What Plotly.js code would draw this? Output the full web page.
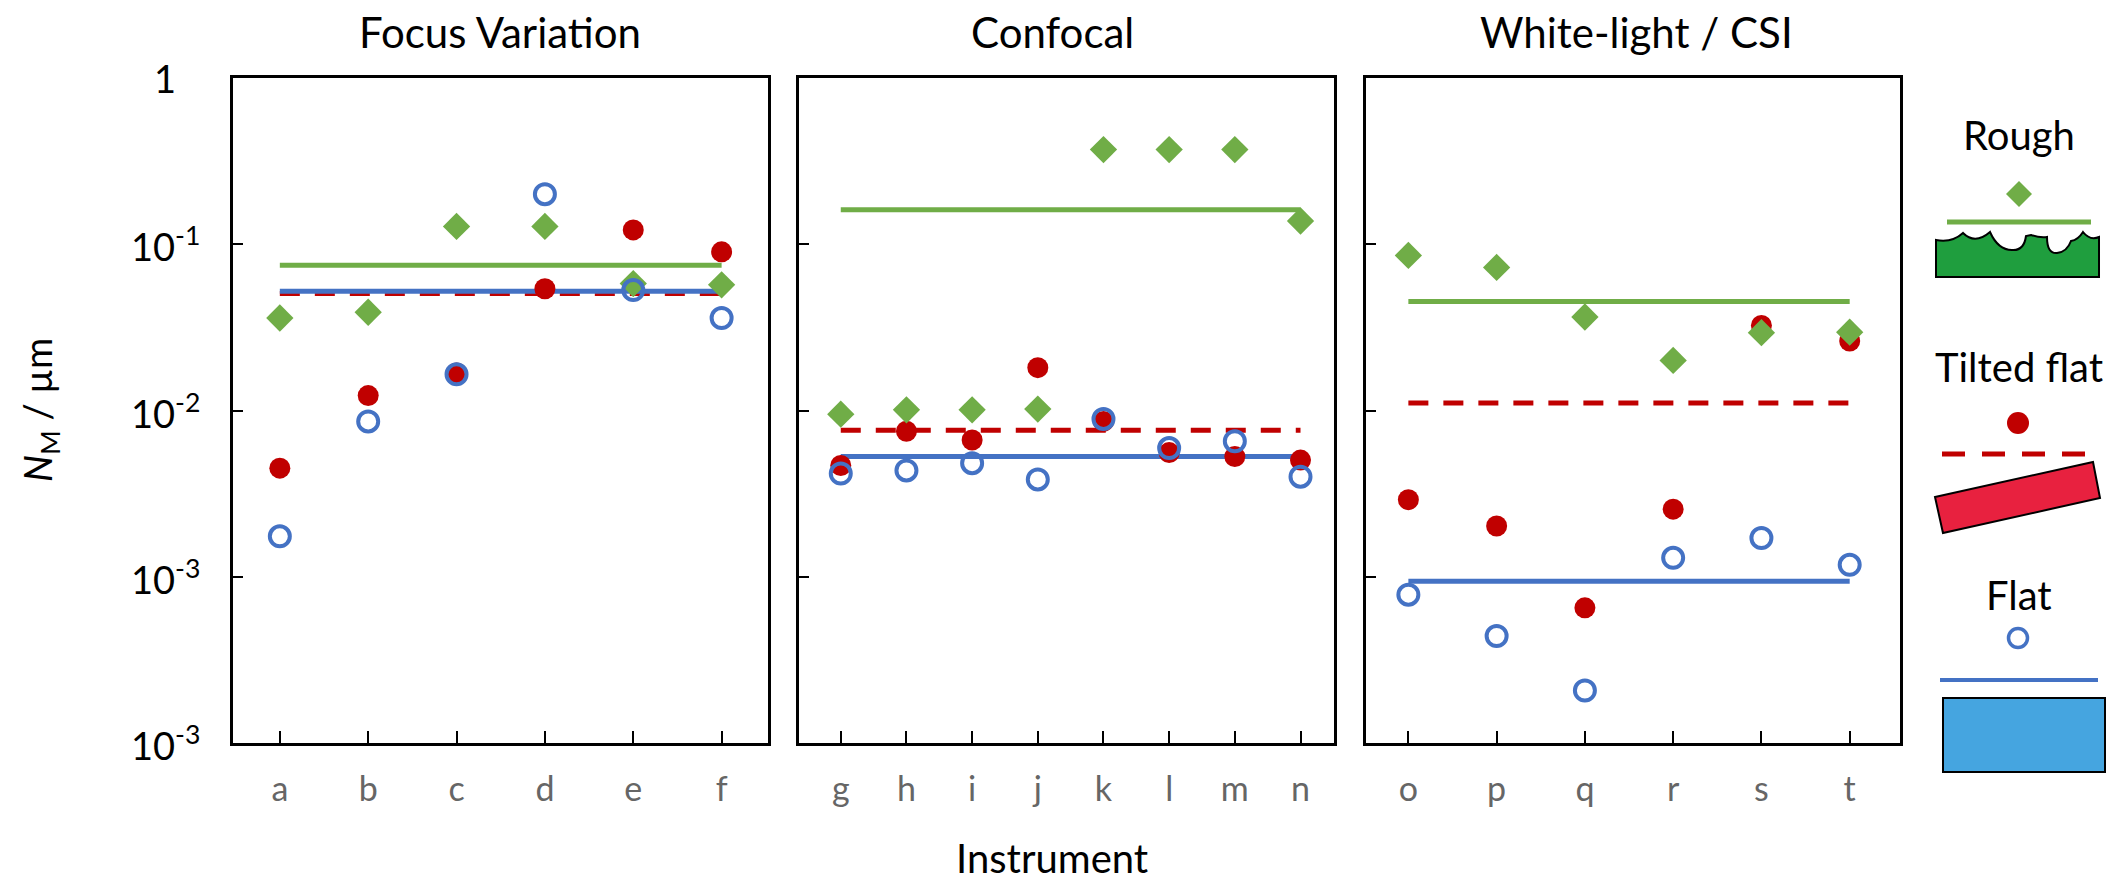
<!DOCTYPE html>
<html>
<head>
<meta charset="utf-8">
<script src="https://cdn.plot.ly/plotly-3.0.1.min.js"></script>
<style>html,body{margin:0;padding:0;background:#fff;}#chart{width:2128px;height:887px;}</style>
</head>
<body>
<div id="chart"></div>
<script>
// ---------------- DATA ----------------
const panelTitles = ['Focus Variation', 'Confocal', 'White-light / CSI'];

const fvCats   = ['a','b','c','d','e','f'];
const confCats = ['g','h','i','j','k','l','m','n'];
const wlCats   = ['o','p','q','r','s','t'];

// Rough (green diamonds)
const roughFV   = [0.036, 0.039, 0.128, 0.128, 0.058, 0.057];
const roughConf = [0.0095, 0.0101, 0.0101, 0.0102, 0.371, 0.371, 0.371, 0.138];
const roughWL   = [0.0857, 0.0725, 0.0365, 0.020, 0.0294, 0.0296];

// Tilted flat (red dots)
const tiltedFV   = [0.0045, 0.0123, 0.0168, 0.054, 0.122, 0.090];
const tiltedConf = [0.00467, 0.0075, 0.00665, 0.0181, 0.0086, 0.00558, 0.00528, 0.00503];
const tiltedWL   = [0.00291, 0.00202, 0.00065, 0.00255, 0.0325, 0.0262];

// Flat (blue open circles)
const flatFV   = [0.00175, 0.0086, 0.0165, 0.200, 0.053, 0.036];
const flatConf = [0.00418, 0.00436, 0.00482, 0.00385, 0.0089, 0.00594, 0.00653, 0.0040];
const flatWL   = [0.00078, 0.00044, 0.000207, 0.0013, 0.00171, 0.00118];

// Mean lines per panel [FV, Confocal, WL]
const roughMean  = [0.0748, 0.161, 0.0453];
const tiltedMean = [0.0506, 0.0076, 0.0111];
const flatMean   = [0.0522, 0.00528, 0.00094];

// Y tick labels (as printed in the original figure)
const yTickVals   = [1e-4, 1e-3, 1e-2, 1e-1, 1];
const yTickLabels = ['10<sup>-3</sup>', '10<sup>-3</sup>', '10<sup>-2</sup>', '10<sup>-1</sup>', '1'];

const legendLabels = ['Rough', 'Tilted flat', 'Flat'];

// ---------------- STYLE ----------------
const GREEN = '#70ad47', RED = '#c00000', BLUE = '#4472c4';
const FONT = 'Lato, "Open Sans", "DejaVu Sans", sans-serif';

// pixel -> paper helpers (plot area 233..1900 x 78..743)
const L = 233, R = 1900, T = 78, B = 743;
const W = R - L, H = B - T;
const px = x => (x - L) / W;
const py = y => (B - y) / H;

const cats = [fvCats, confCats, wlCats];
const rough = [roughFV, roughConf, roughWL];
const tilted = [tiltedFV, tiltedConf, tiltedWL];
const flat = [flatFV, flatConf, flatWL];

const traces = [];
for (let p = 0; p < 3; p++) {
  const xa = p === 0 ? 'x' : 'x' + (p + 1);
  const ya = p === 0 ? 'y' : 'y' + (p + 1);
  const c = cats[p];
  const ends = [c[0], c[c.length - 1]];
  traces.push({x: ends, y: [roughMean[p], roughMean[p]], xaxis: xa, yaxis: ya, mode: 'lines',
    line: {color: GREEN, width: 5}, showlegend: false, hoverinfo: 'skip'});
  traces.push({x: ends, y: [tiltedMean[p], tiltedMean[p]], xaxis: xa, yaxis: ya, mode: 'lines',
    line: {color: RED, width: 5, dash: '20px,15px'}, showlegend: false, hoverinfo: 'skip'});
  traces.push({x: ends, y: [flatMean[p], flatMean[p]], xaxis: xa, yaxis: ya, mode: 'lines',
    line: {color: BLUE, width: 5}, showlegend: false, hoverinfo: 'skip'});
  traces.push({x: c, y: tilted[p], xaxis: xa, yaxis: ya, mode: 'markers', name: 'Tilted flat',
    marker: {symbol: 'circle', size: 21, color: RED}, showlegend: false, cliponaxis: false});
  traces.push({x: c, y: rough[p], xaxis: xa, yaxis: ya, mode: 'markers', name: 'Rough',
    marker: {symbol: 'diamond', size: 21, color: GREEN}, showlegend: false, cliponaxis: false});
  traces.push({x: c, y: flat[p], xaxis: xa, yaxis: ya, mode: 'markers', name: 'Flat',
    marker: {symbol: 'circle-open', size: 20, color: BLUE, line: {color: BLUE, width: 4}},
    showlegend: false, cliponaxis: false});
}

function xAxis(domain, anchor, range, catArr) {
  return {domain: domain, anchor: anchor, type: 'category', range: range,
    categoryorder: 'array', categoryarray: catArr,
    showline: true, mirror: true, linewidth: 3, linecolor: '#000',
    ticks: 'inside', ticklen: 12, tickwidth: 2, tickcolor: '#000',
    showgrid: false, zeroline: false, fixedrange: true,
    tickfont: {family: FONT, size: 34, color: '#666666'}, ticklabelstandoff: 14};
}
function yAxis(anchor) {
  return {anchor: anchor, type: 'log', range: [-4, 0],
    showline: true, mirror: true, linewidth: 3, linecolor: '#000',
    ticks: 'inside', ticklen: 10, tickwidth: 2, tickcolor: '#000',
    tickvals: yTickVals.slice(1, 4), showticklabels: false,
    showgrid: false, zeroline: false, fixedrange: true};
}

const titleCentersPx = [500, 1052, 1636];
const annotations = [];
panelTitles.forEach((t, i) => {
  annotations.push({text: t, xref: 'paper', yref: 'paper',
    x: px(titleCentersPx[i]), y: py(32), xanchor: 'center', yanchor: 'middle',
    showarrow: false, font: {family: FONT, size: 42, color: '#000'}});
});
yTickVals.forEach((v, i) => {
  annotations.push({text: yTickLabels[i], xref: 'paper', yref: 'y', x: px(165), y: Math.log10(v),
    xanchor: 'center', yanchor: 'middle', showarrow: false,
    font: {family: FONT, size: 38, color: '#000'}});
});
annotations.push({text: '<i>N</i><sub>M</sub> / µm', xref: 'paper', yref: 'paper',
  x: px(40), y: py(410), xanchor: 'center', yanchor: 'middle', textangle: -90, showarrow: false,
  font: {family: FONT, size: 38, color: '#000'}});
annotations.push({text: 'Instrument', xref: 'paper', yref: 'paper', x: px(1052), y: py(858),
  xanchor: 'center', yanchor: 'middle', showarrow: false,
  font: {family: FONT, size: 40, color: '#000'}});
const legY = [135, 367, 595];
legendLabels.forEach((t, i) => {
  annotations.push({text: t, xref: 'paper', yref: 'paper', x: px(2019), y: py(legY[i]),
    xanchor: 'center', yanchor: 'middle', showarrow: false,
    font: {family: FONT, size: 40, color: '#000'}});
});

// legend pictograms (drawn as shapes)
function pathPx(cmds) {
  return cmds.map(c => {
    const k = c[0];
    if (k === 'Z') return 'Z';
    const pts = [];
    for (let j = 1; j < c.length; j += 2) pts.push(px(c[j]).toFixed(5) + ',' + py(c[j + 1]).toFixed(5));
    return k + pts.join(' ');
  }).join(' ');
}
const shapes = [];
// Rough
shapes.push({type: 'path', xref: 'paper', yref: 'paper',
  path: pathPx([['M', 2019, 181], ['L', 2032, 194], ['L', 2019, 207], ['L', 2006, 194], ['Z']]),
  fillcolor: GREEN, line: {width: 0}});
shapes.push({type: 'line', xref: 'paper', yref: 'paper', x0: px(1947), x1: px(2091), y0: py(222), y1: py(222),
  line: {color: GREEN, width: 5}});
shapes.push({type: 'path', xref: 'paper', yref: 'paper',
  path: pathPx([['M', 1936, 277], ['L', 1936, 240], ['Q', 1952, 243, 1963, 233], ['Q', 1975, 245, 1990, 232],
    ['Q', 1998, 250, 2012, 250], ['Q', 2024, 251, 2026, 236], ['L', 2031, 235], ['Q', 2040, 238, 2047, 237],
    ['Q', 2047, 254, 2057, 253], ['Q', 2067, 252, 2071, 241], ['Q', 2078, 240, 2083, 232],
    ['Q', 2090, 241, 2099, 237], ['L', 2099, 277], ['Z']]),
  fillcolor: '#1f9e3e', line: {color: '#000', width: 2}});
// Tilted flat
shapes.push({type: 'circle', xref: 'paper', yref: 'paper', x0: px(2007), x1: px(2029), y0: py(412), y1: py(434),
  fillcolor: RED, line: {width: 0}});
shapes.push({type: 'line', xref: 'paper', yref: 'paper', x0: px(1942), x1: px(2085), y0: py(454), y1: py(454),
  line: {color: RED, width: 5, dash: '23px,17px'}});
shapes.push({type: 'path', xref: 'paper', yref: 'paper',
  path: pathPx([['M', 1935, 497], ['L', 2093, 462], ['L', 2100, 498], ['L', 1943, 533], ['Z']]),
  fillcolor: '#e8213f', line: {color: '#000', width: 2}});
// Flat
shapes.push({type: 'circle', xref: 'paper', yref: 'paper', x0: px(2008.5), x1: px(2027.5), y0: py(628.5), y1: py(647.5),
  fillcolor: 'rgba(0,0,0,0)', line: {color: BLUE, width: 3.5}});
shapes.push({type: 'line', xref: 'paper', yref: 'paper', x0: px(1940), x1: px(2098), y0: py(680), y1: py(680),
  line: {color: BLUE, width: 4}});
shapes.push({type: 'rect', xref: 'paper', yref: 'paper', x0: px(1943), x1: px(2105), y0: py(698), y1: py(772),
  fillcolor: '#45a5e0', line: {color: '#000', width: 2}});

const layout = {
  width: 2128, height: 887,
  margin: {l: L, r: 2128 - R, t: T, b: 887 - B, pad: 0},
  paper_bgcolor: '#fff', plot_bgcolor: '#fff',
  showlegend: false,
  font: {family: FONT, color: '#000'},
  xaxis:  xAxis([0, px(768)], 'y', [-0.53, 5.525], fvCats),
  xaxis2: xAxis([px(799), px(1334)], 'y2', [-0.636, 7.51], confCats),
  xaxis3: xAxis([px(1366), 1], 'y3', [-0.48, 5.57], wlCats),
  yaxis: yAxis('x'), yaxis2: yAxis('x2'), yaxis3: yAxis('x3'),
  annotations: annotations,
  shapes: shapes
};

Plotly.newPlot('chart', traces, layout, {displayModeBar: false, staticPlot: true});
</script>
</body>
</html>
